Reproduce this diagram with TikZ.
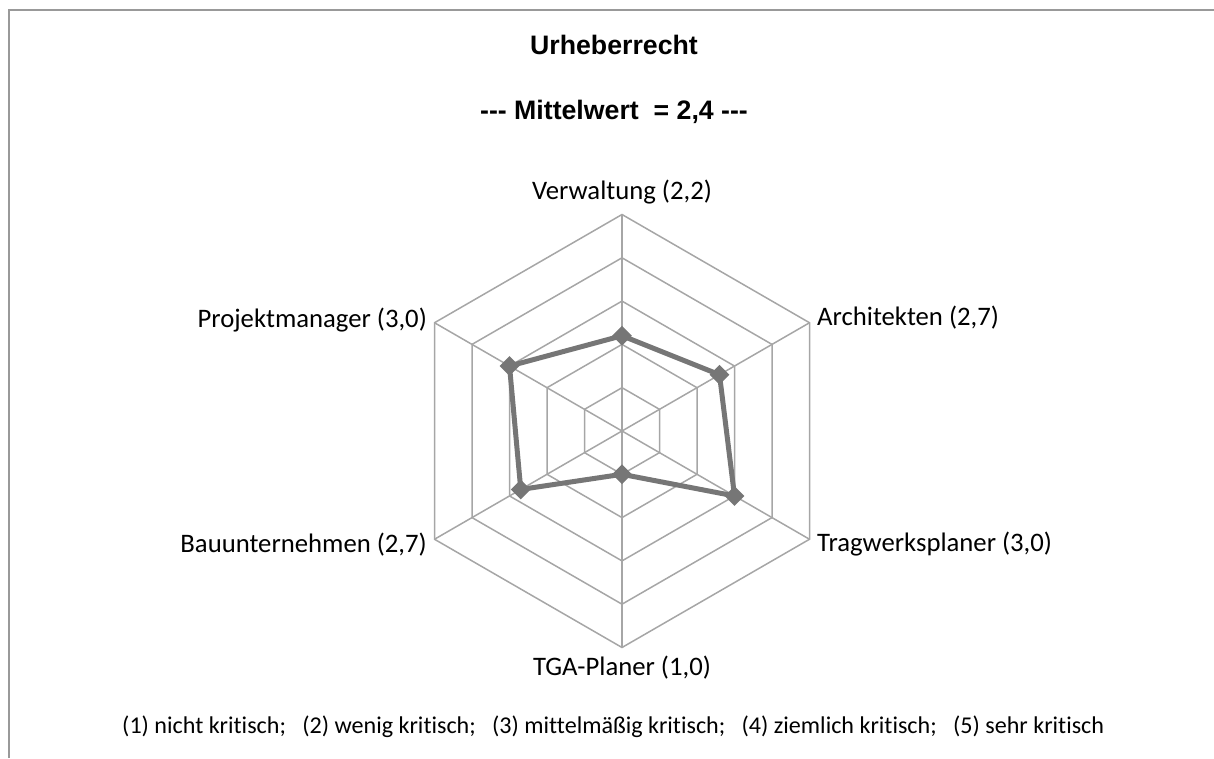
\documentclass[tikz,border=0pt]{standalone}
\usepackage{fontspec}
\setmainfont{Carlito}[Ligatures=NoCommon]
\newfontfamily\titlefont{Liberation Sans}
\usepackage{tikz}
\usetikzlibrary{shapes.geometric, positioning}
\definecolor{framegray}{RGB}{153,153,153}
\definecolor{gridgray}{RGB}{166,166,166}
\definecolor{datagray}{RGB}{118,118,118}

\begin{document}
\begin{tikzpicture}[
  x=1pt, y=1pt,
  gridline/.style={draw=gridgray, line width=1.5pt},
  datline/.style={draw=datagray, line width=5pt, line join=round},
  datamark/.style={diamond, fill=datagray, inner sep=0pt, minimum size=20pt},
  axlabel/.style={font=\fontsize{26.7}{30}\selectfont, inner sep=0pt},
  headline/.style={font=\titlefont\bfseries\fontsize{26.7}{30}\selectfont, inner sep=0pt}
]
\useasboundingbox (0,0) rectangle (1214,758);
\draw[framegray, line width=2pt] (9,0) -- (9,748) -- (1214,748);

\node[headline, anchor=base] (titel) at (614,703) {Urheberrecht};
\node[headline, anchor=base] (mittel) at (614,638) {--{}- Mittelwert \ = 2,4 --{}-};

\begin{scope}[shift={(622,327)}]
  \foreach \k in {1,...,5}
    \draw[gridline] (90:{\k*43.3}) -- (30:{\k*43.3}) -- (-30:{\k*43.3})
      -- (-90:{\k*43.3}) -- (-150:{\k*43.3}) -- (150:{\k*43.3}) -- cycle;
  \foreach \a in {90,30,-30,-90,-150,150}
    \draw[gridline] (0,0) -- (\a:216.5);

  \coordinate (vw) at (90:{2.2*43.3});
  \coordinate (ar) at (30:{2.6*43.3});
  \coordinate (tw) at (-30:{3.0*43.3});
  \coordinate (tga) at (-90:{1.0*43.3});
  \coordinate (bu) at (-150:{2.7*43.3});
  \coordinate (pm) at (150:{3.0*43.3});
\end{scope}

\draw[datline] (vw) -- (ar) -- (tw) -- (tga) -- (bu) -- (pm) -- cycle;
\foreach \p in {vw,ar,tw,tga,bu,pm}
  \node[datamark] (\p-m) at (\p) {};

\node[axlabel, anchor=base] (verwaltung) at (622,558) {Verwaltung (2,2)};
\node[axlabel, anchor=base west] (architekten) at (817,432) {Architekten (2,7)};
\node[axlabel, anchor=base west] (tragwerk) at (817,207) {Tragwerksplaner (3,0)};
\node[axlabel, anchor=base] (tgaplaner) at (622,83) {TGA-Planer (1,0)};
\node[axlabel, anchor=base east] (bauunt) at (427,206) {Bauunternehmen (2,7)};
\node[axlabel, anchor=base east] (projekt) at (427,430) {Projektmanager (3,0)};

\node[font=\fontsize{24.1}{28}\selectfont, inner sep=0pt, anchor=base west] (legende) at (122,25)
  {(1) nicht kritisch; \ \ (2) wenig kritisch; \ \ (3) mittelmäßig kritisch; \ \ (4) ziemlich kritisch; \ \ (5) sehr kritisch};
\end{tikzpicture}
\end{document}
